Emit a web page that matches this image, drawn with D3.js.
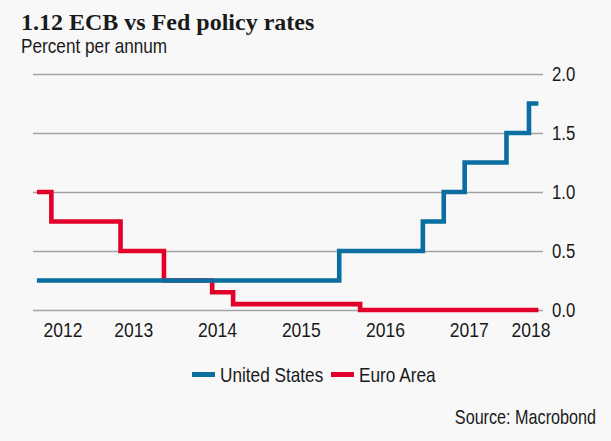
<!DOCTYPE html>
<html>
<head>
<meta charset="utf-8">
<script src="https://cdn.jsdelivr.net/npm/d3@7/dist/d3.min.js"></script>
<style>
  html, body { margin: 0; padding: 0; background: #f8f8f8; }
  svg { display: block; }
  text { fill: #1a1a1a; }
</style>
</head>
<body>
<svg id="chart" width="611" height="441"></svg>
<script>
// Policy rate changes (upper bound of the Fed target range, ECB main refinancing rate)
const fedDates = ["2012-05-09", "2015-12-16", "2016-12-14", "2017-03-15", "2017-06-14", "2017-12-13", "2018-03-21", "2018-05-01"];
const fedRates = [0.25, 0.50, 0.75, 1.00, 1.25, 1.50, 1.75, 1.75];

const ecbDates = ["2012-05-09", "2012-07-11", "2013-05-08", "2013-11-13", "2014-06-11", "2014-09-10", "2016-03-16", "2018-05-01"];
const ecbRates = [1.00, 0.75, 0.50, 0.25, 0.15, 0.05, 0.00, 0.00];

const yTicks = [0, 0.5, 1.0, 1.5, 2.0];
const yearLabels = ["2012", "2013", "2014", "2015", "2016", "2017", "2018"];
const xDomain = ["2012-04-22", "2018-05-21"];

const seriesNames = ["United States", "Euro Area"];
const seriesColors = ["#0a6fa0", "#e2002b"];

const parse = d3.timeParse("%Y-%m-%d");
const svg = d3.select("#chart");

const plot = { left: 33, right: 543, top: 74, bottom: 310 };
const sansFont = "'Liberation Sans', Arial, sans-serif";

const x = d3.scaleTime().domain(xDomain.map(parse)).range([plot.left, plot.right]);
const y = d3.scaleLinear().domain([0, 2]).range([plot.bottom, plot.top]);

// Title and subtitle
svg.append("text")
  .attr("x", 21).attr("y", 29.5)
  .style("font-family", "'Liberation Serif', 'Times New Roman', serif")
  .style("font-weight", "bold").style("font-size", "24px")
  .text("1.12 ECB vs Fed policy rates");

svg.append("text")
  .attr("transform", `translate(21,53) scale(0.86,1)`)
  .style("font-family", sansFont).style("font-size", "20px")
  .text("Percent per annum");

// Y axis on the right, with gridlines across the plot
const span = plot.right - plot.left;
const yAxis = svg.append("g")
  .attr("transform", `translate(${plot.left},0)`)
  .call(d3.axisRight(y).tickValues(yTicks).tickSize(span).tickPadding(9)
    .tickFormat(d3.format(".1f")));
yAxis.select(".domain").remove();
yAxis.selectAll(".tick line").attr("stroke", "#a3a3a3").attr("stroke-width", 1.4);
yAxis.selectAll(".tick text")
  .attr("x", 0)
  .attr("transform", `translate(${span + 9},0) scale(0.86,1)`)
  .style("font-family", sansFont).style("font-size", "19.5px")
  .attr("fill", "#1a1a1a");

// Year labels at mid-year, kept inside the axis span
const yearScale = 0.835;
const mids = yearLabels.map(yr => parse(`${yr}-07-02`));
const xAxis = svg.append("g")
  .attr("transform", `translate(0,${plot.bottom})`)
  .call(d3.axisBottom(x).tickValues(mids).tickSize(0).tickPadding(12)
    .tickFormat(d3.timeFormat("%Y")));
xAxis.select(".domain").remove();
xAxis.selectAll(".tick text")
  .style("font-family", sansFont).style("font-size", "21px")
  .attr("fill", "#1a1a1a")
  .each(function(d) {
    const t = d3.select(this);
    const half = this.getComputedTextLength() * yearScale / 2;
    const cx = x(d);
    const minC = plot.left + 10 + half, maxC = plot.right + 7 - half;
    const shift = Math.max(minC, Math.min(maxC, cx)) - cx;
    t.attr("transform", `translate(${shift},0) scale(${yearScale},1)`);
  });

// Step lines
const line = d3.line()
  .x(d => x(d.date))
  .y(d => y(d.value))
  .curve(d3.curveStepAfter);

const fed = fedDates.map((d, i) => ({ date: parse(d), value: fedRates[i] }));
const ecb = ecbDates.map((d, i) => ({ date: parse(d), value: ecbRates[i] }));

svg.append("path").datum(ecb)
  .attr("d", line).attr("fill", "none")
  .attr("stroke", seriesColors[1]).attr("stroke-width", 4.6);

svg.append("path").datum(fed)
  .attr("d", line).attr("fill", "none")
  .attr("stroke", seriesColors[0]).attr("stroke-width", 4.6);

// Legend
const legendItems = [
  { name: seriesNames[0], color: seriesColors[0], x0: 192 },
  { name: seriesNames[1], color: seriesColors[1], x0: 331 }
];
const lg = svg.append("g");
legendItems.forEach(it => {
  lg.append("line")
    .attr("x1", it.x0).attr("x2", it.x0 + 23)
    .attr("y1", 374.5).attr("y2", 374.5)
    .attr("stroke", it.color).attr("stroke-width", 5);
  lg.append("text")
    .attr("transform", `translate(${it.x0 + 28},382) scale(0.82,1)`)
    .style("font-family", sansFont).style("font-size", "21px")
    .text(it.name);
});

// Source note
svg.append("text")
  .attr("transform", `translate(596,424) scale(0.83,1)`)
  .attr("text-anchor", "end")
  .style("font-family", sansFont).style("font-size", "19.5px")
  .text("Source: Macrobond");
</script>
</body>
</html>
